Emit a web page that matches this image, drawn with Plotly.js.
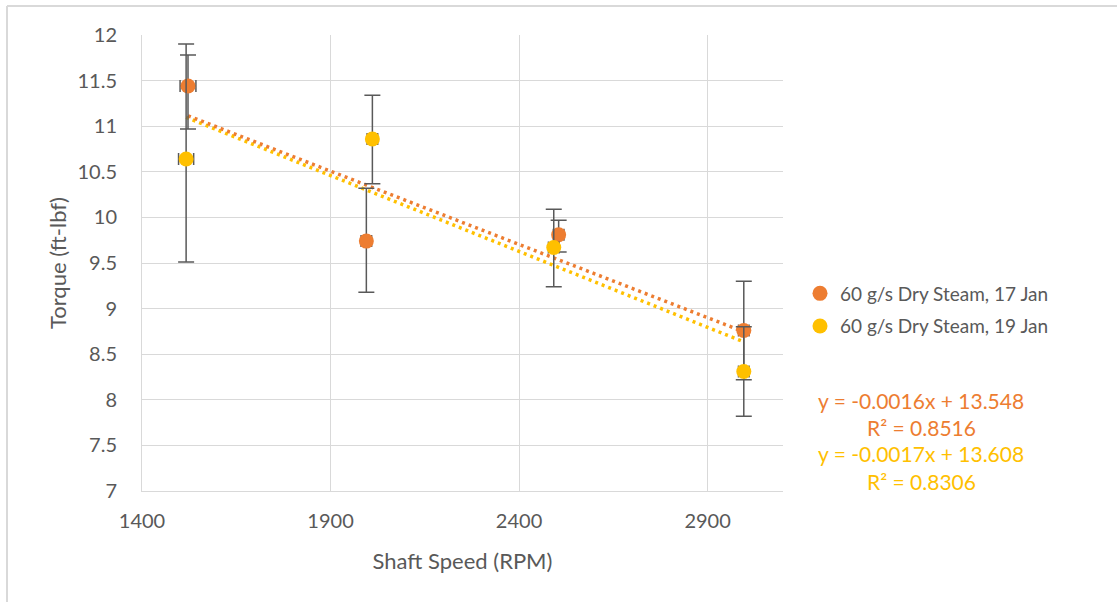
<!DOCTYPE html>
<html>
<head>
<meta charset="utf-8">
<script src="https://cdn.plot.ly/plotly-3.0.1.min.js"></script>
<style>html,body{margin:0;padding:0;background:#fff;}#chart{width:1117px;height:602px;}</style>
</head>
<body>
<div id="chart"></div>
<script>
// Series names
const seriesNames = ["60 g/s Dry Steam, 17 Jan", "60 g/s Dry Steam, 19 Jan"];
// 17 Jan
const rpm17 = [1522, 1995, 2505, 2996];
const torque17 = [11.44, 9.74, 9.81, 8.76];
const errUp17 = [0.34, 0.58, 0.16, 0.54];
const errDown17 = [0.47, 0.56, 0.19, 0.54];
const rpmErr17 = [21, 14, 14, 14];
// 19 Jan
const rpm19 = [1517, 2011, 2492, 2996];
const torque19 = [10.64, 10.86, 9.67, 8.31];
const errUp19 = [1.26, 0.48, 0.42, 0.49];
const errDown19 = [1.13, 0.49, 0.43, 0.49];
const rpmErr19 = [20, 14, 14, 14];
// Trendline labels
const eqLabels = ["y = -0.0016x + 13.548", "R\u00b2 = 0.8516", "y = -0.0017x + 13.608", "R\u00b2 = 0.8306"];
const yTicks = [7, 7.5, 8, 8.5, 9, 9.5, 10, 10.5, 11, 11.5, 12];
const xTicks = [1400, 1900, 2400, 2900];

const orange = "#ED7D31", yellow = "#FFC000", grey = "#595959";
const FONT = "Lato, 'Open Sans', sans-serif";

function fit(xs, ys) {
  const n = xs.length;
  const mx = xs.reduce((a, b) => a + b, 0) / n;
  const my = ys.reduce((a, b) => a + b, 0) / n;
  let sxy = 0, sxx = 0;
  for (let i = 0; i < n; i++) { sxy += (xs[i] - mx) * (ys[i] - my); sxx += (xs[i] - mx) ** 2; }
  const m = sxy / sxx, b = my - m * mx;
  const x0 = Math.min(...xs), x1 = Math.max(...xs);
  return { x: [x0, x1], y: [m * x0 + b, m * x1 + b] };
}
const t17 = fit(rpm17, torque17), t19 = fit(rpm19, torque19);

const traces = [
  { x: t19.x, y: t19.y, mode: "lines", line: { color: yellow, width: 3.5, dash: "3px,4px" }, showlegend: false, hoverinfo: "skip" },
  { x: t17.x, y: t17.y, mode: "lines", line: { color: orange, width: 3.5, dash: "3px,4px" }, showlegend: false, hoverinfo: "skip" },
  { x: rpm17, y: torque17, mode: "markers", name: seriesNames[0], legendgroup: "a",
    marker: { color: orange, size: 15 },
    error_y: { type: "data", array: errUp17, arrayminus: errDown17, color: grey, thickness: 1.5, width: 8 },
    error_x: { type: "data", array: rpmErr17, color: grey, thickness: 1.5, width: 6 } },
  { x: rpm19, y: torque19, mode: "markers", name: seriesNames[1], legendgroup: "b",
    marker: { color: yellow, size: 15 },
    error_y: { type: "data", array: errUp19, arrayminus: errDown19, color: grey, thickness: 1.5, width: 8 },
    error_x: { type: "data", array: rpmErr19, color: grey, thickness: 1.5, width: 6 } }
];

const L = 142, R = 334, T = 35, B = 111, W = 1117, H = 602;
const pw = W - L - R, ph = H - T - B;
const px = v => (v - L) / pw;
const py = v => (H - B - v) / ph;

const eqColors = [orange, orange, yellow, yellow];
const eqY = [400, 427, 453, 481];
const annotations = eqLabels.map((t, i) => ({
  text: t, xref: "paper", yref: "paper", x: px(921), y: py(eqY[i]), xanchor: "center", yanchor: "middle",
  showarrow: false, font: { family: FONT, size: 21, color: eqColors[i] }
}));

const layout = {
  width: W, height: H,
  margin: { l: L, r: R, t: T, b: B, pad: 0 },
  paper_bgcolor: "#fff", plot_bgcolor: "#fff",
  font: { family: FONT, color: grey, size: 20 },
  xaxis: {
    range: [1400, 3100], tickvals: xTicks, ticktext: xTicks.map(String),
    showgrid: true, gridcolor: "#d9d9d9", gridwidth: 1,
    showline: true, linecolor: "#d9d9d9", linewidth: 1,
    zeroline: false, ticks: "", ticklabelstandoff: 12,
    tickfont: { family: FONT, size: 20, color: grey },
    title: { text: "Shaft Speed (RPM)", font: { family: FONT, size: 22, color: grey }, standoff: 22 }
  },
  yaxis: {
    range: [7, 12], tickvals: yTicks, ticktext: yTicks.map(String),
    showgrid: true, gridcolor: "#d9d9d9", gridwidth: 1,
    showline: true, linecolor: "#d9d9d9", linewidth: 1,
    zeroline: false, ticks: "", ticklabelstandoff: 20,
    tickfont: { family: FONT, size: 20, color: grey },
    title: { text: "Torque (ft-lbf)", font: { family: FONT, size: 22, color: grey }, standoff: 4 }
  },
  legend: {
    x: px(800), xanchor: "left", y: py(310), yanchor: "middle",
    font: { family: FONT, size: 19, color: grey },
    bgcolor: "rgba(0,0,0,0)", traceorder: "grouped", tracegroupgap: 5
  },
  annotations: annotations,
  shapes: [
    { type: "line", xref: "paper", yref: "paper", x0: px(7), x1: px(7), y0: py(602), y1: py(6), line: { color: "#d9d9d9", width: 2 } },
    { type: "line", xref: "paper", yref: "paper", x0: px(7), x1: px(1117), y0: py(6), y1: py(6), line: { color: "#d9d9d9", width: 2 } }
  ],
  showlegend: true
};

Plotly.newPlot("chart", traces, layout, { displayModeBar: false, staticPlot: true });
</script>
</body>
</html>
